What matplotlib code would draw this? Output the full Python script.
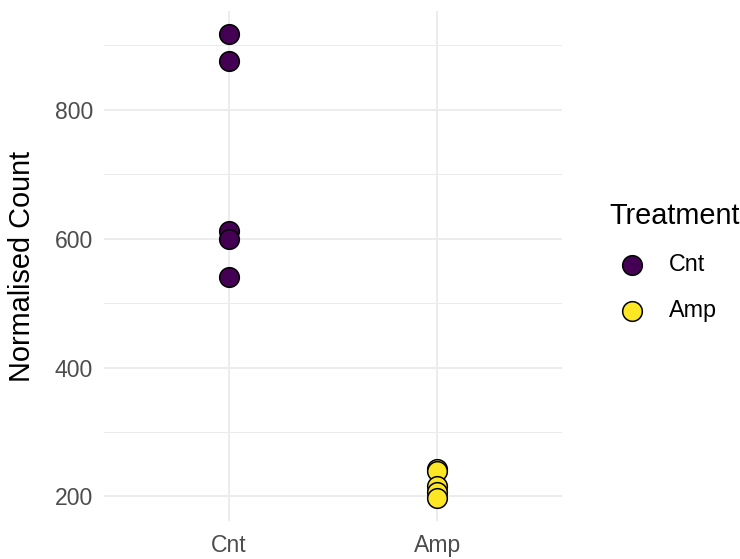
import numpy as np
import matplotlib.pyplot as plt

plt.rcParams['font.family'] = ['Liberation Sans', 'DejaVu Sans']

# data
groups = ["Cnt", "Amp"]
colors = ["#440154", "#FDE725"]
cnt_counts = [917, 875, 612, 599, 540]
amp_counts = [242, 240, 216, 207, 198]
values = [cnt_counts, amp_counts]

fig = plt.figure(figsize=(7.4, 5.59), dpi=100)
ax = fig.add_axes([0.1405, 0.068, 0.619, 0.912])

for i, (g, vals, c) in enumerate(zip(groups, values, colors)):
    xs = np.full(len(vals), i + 1)
    ax.scatter(xs, vals, s=200, color=c, edgecolors="black", linewidths=1.1,
               label=g, zorder=3)

ax.set_xlim(0.4, 2.6)
ax.set_ylim(162, 953)
ax.set_xticks([1, 2])
ax.set_xticklabels(groups)
ax.set_yticks([200, 400, 600, 800])
ax.set_yticks([300, 500, 700, 900], minor=True)

ax.grid(True, which="major", color="#EBEBEB", linewidth=1.3, zorder=0)
ax.grid(True, which="minor", axis="y", color="#EBEBEB", linewidth=0.7, zorder=0)
ax.set_axisbelow(True)
for sp in ax.spines.values():
    sp.set_visible(False)
ax.tick_params(which="both", length=0, labelsize=16.6, labelcolor="#4D4D4D", pad=8)
ax.tick_params(axis="x", pad=9.5)

fig.text(22 / 740, 0.524, "Normalised Count", rotation=90, ha="center",
         va="center", fontsize=20.8)

leg = ax.legend(title="Treatment", loc="upper left", bbox_to_anchor=(0.823, 0.638),
                bbox_transform=fig.transFigure, frameon=False, fontsize=16.8,
                title_fontsize=20.8, markerscale=1.0, handlelength=2.0,
                handletextpad=0.55, labelspacing=0.98, borderpad=0,
                borderaxespad=0)
leg._legend_box.align = "left"

fig.savefig("out.png", dpi=100)
